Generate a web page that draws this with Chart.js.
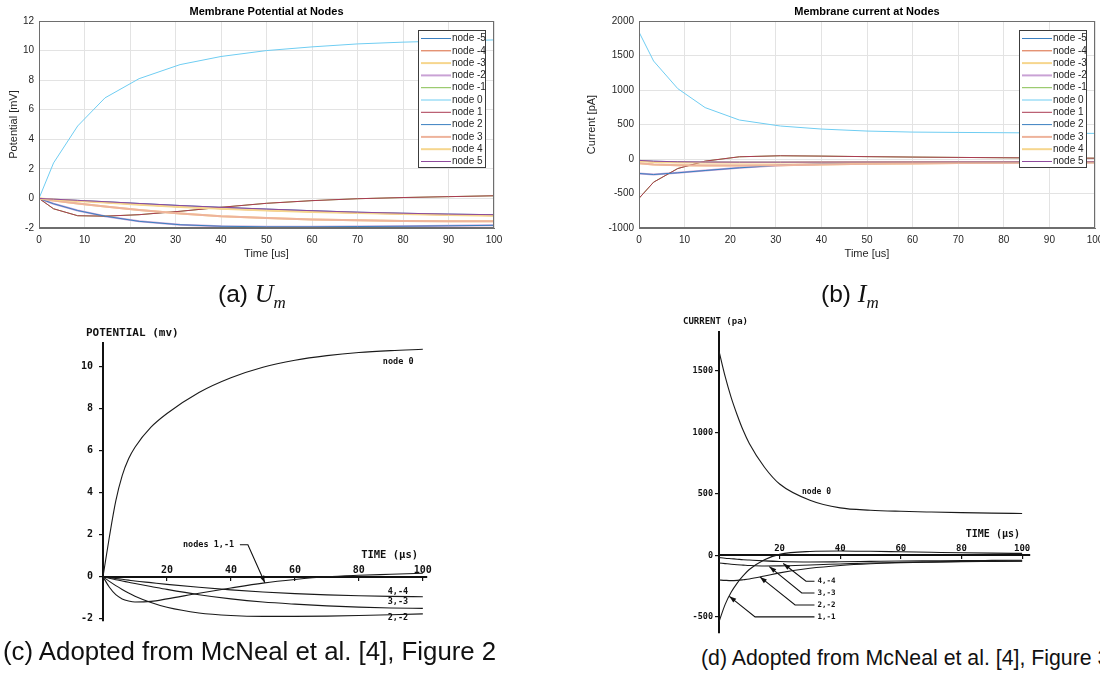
<!DOCTYPE html>
<html lang="en">
<head>
<meta charset="utf-8">
<title>Membrane potential and current at nodes</title>
<script src="https://cdn.jsdelivr.net/npm/chart.js@4.4.1/dist/chart.umd.min.js"></script>
<style>
  html, body { margin:0; padding:0; background:#fff; }
  body { position:relative; width:1100px; height:684px; overflow:hidden; font-family:'Liberation Sans', Arial, sans-serif; }
  canvas { position:absolute; }
  .cap { position:absolute; font-size:24.5px; line-height:26px; color:#111; white-space:nowrap; }
  .cap i { font-family:'Liberation Serif', 'DejaVu Serif', serif; font-size:26px; }
  .cap sub { font-size:17px; line-height:0; }
</style>
</head>
<body>
<canvas id="chart-um" width="550" height="270" style="left:0;top:0"></canvas>
<canvas id="chart-im" width="550" height="270" style="left:550px;top:0"></canvas>
<canvas id="chart-mc-um" width="450" height="330" style="left:0;top:310px"></canvas>
<canvas id="chart-mc-im" width="440" height="330" style="left:660px;top:310px"></canvas>
<div class="cap" style="left:218px;top:281px">(a) <i>U<sub>m</sub></i></div>
<div class="cap" style="left:821px;top:281px">(b) <i>I<sub>m</sub></i></div>
<div class="cap" style="left:3px;top:638px;font-size:25.8px">(c) Adopted from McNeal et al. [4], Figure 2</div>
<div class="cap" style="left:701px;top:645px;font-size:21.3px">(d) Adopted from McNeal et al. [4], Figure 3</div>

<script>
/* ── simulated data (top row), node -k mirrors node k ── */
var SIM_TIME = [0, 3.2, 8.5, 14.5, 22, 31, 40, 50, 60, 70, 80, 90, 100];
var NODE_NAMES = ['node -5','node -4','node -3','node -2','node -1','node 0','node 1','node 2','node 3','node 4','node 5'];

// membrane potential [mV]
var UM_N0 = [0, 2.4, 4.9, 6.8, 8.1, 9.05, 9.6, 10.0, 10.25, 10.45, 10.57, 10.65, 10.72];
var UM_N1 = [0, -0.7, -1.17, -1.2, -1.1, -0.87, -0.6, -0.33, -0.15, -0.02, 0.06, 0.12, 0.18];
var UM_N2 = [0, -0.36, -0.82, -1.2, -1.55, -1.78, -1.88, -1.92, -1.92, -1.9, -1.88, -1.85, -1.82];
var UM_N3 = [0, -0.14, -0.35, -0.55, -0.78, -1.02, -1.2, -1.33, -1.42, -1.48, -1.52, -1.54, -1.55];
var UM_N4 = [0, -0.07, -0.17, -0.28, -0.42, -0.58, -0.7, -0.82, -0.91, -0.99, -1.06, -1.12, -1.17];
var UM_N5 = [0, -0.05, -0.13, -0.22, -0.34, -0.48, -0.6, -0.72, -0.83, -0.93, -1.0, -1.06, -1.1];

// membrane current [pA]
var IM_N0 = [1840, 1420, 1020, 745, 565, 478, 434, 405, 390, 385, 381, 376, 371];
var IM_N1 = [-570, -336, -138, -31, 32, 47, 42, 34, 28, 23, 18, 14, 12];
var IM_N2 = [-210, -225, -200, -167, -128, -90, -72, -62, -56, -52, -50, -48, -47];
var IM_N3 = [-60, -78, -90, -95, -95, -90, -80, -70, -64, -59, -55, -52, -50];
var IM_N4 = [-30, -42, -50, -52, -52, -50, -48, -46, -45, -44, -43, -42, -42];
var IM_N5 = [-20, -32, -40, -44, -46, -46, -45, -44, -43, -42, -42, -41, -41];

var TIME_TICKS = [0, 10, 20, 30, 40, 50, 60, 70, 80, 90, 100];
var UM_TICKS = [-2, 0, 2, 4, 6, 8, 10, 12];
var IM_TICKS = [-1000, -500, 0, 500, 1000, 1500, 2000];

/* ── McNeal et al. curves (bottom row), nodes 0, (1,-1) ... (4,-4) ── */
var MC_TIME = [0, 2, 4, 6, 8, 10, 15, 20, 30, 40, 50, 60, 70, 80, 90, 100];
var MC_NAMES = ['node 0', '1,-1', '2,-2', '3,-3', '4,-4'];

var MC_UM_N0 = [0, 1.9, 3.6, 4.8, 5.6, 6.15, 7.1, 7.75, 8.75, 9.45, 9.95, 10.28, 10.5, 10.65, 10.74, 10.8];
var MC_UM_N1 = [0, -0.5, -0.85, -1.05, -1.15, -1.2, -1.17, -1.05, -0.78, -0.53, -0.3, -0.13, 0.0, 0.07, 0.12, 0.17];
var MC_UM_N2 = [0, -0.22, -0.42, -0.6, -0.77, -0.92, -1.22, -1.45, -1.72, -1.84, -1.88, -1.88, -1.87, -1.84, -1.8, -1.76];
var MC_UM_N3 = [0, -0.07, -0.14, -0.2, -0.26, -0.32, -0.46, -0.6, -0.85, -1.05, -1.2, -1.3, -1.38, -1.44, -1.48, -1.5];
var MC_UM_N4 = [0, -0.04, -0.08, -0.12, -0.16, -0.2, -0.28, -0.36, -0.5, -0.62, -0.72, -0.8, -0.86, -0.9, -0.93, -0.95];

var MC_IM_N0 = [1660, 1456, 1284, 1141, 1014, 909, 716, 580, 448, 386, 367, 358, 352, 347, 343, 340];
var MC_IM_N1 = [-540, -400, -300, -225, -165, -115, -35, 8, 32, 36, 33, 29, 25, 21, 18, 16];
var MC_IM_N2 = [-200, -203, -205, -203, -198, -192, -168, -142, -105, -82, -68, -60, -55, -51, -49, -47];
var MC_IM_N3 = [-62, -67, -72, -76, -79, -82, -86, -85, -78, -70, -62, -57, -53, -50, -48, -46];
var MC_IM_N4 = [-18, -23, -27, -31, -35, -38, -45, -50, -54, -52, -49, -46, -44, -42, -41, -40];

var MC_TIME_TICKS = [20, 40, 60, 80, 100];
var MC_UM_TICKS = [-2, 0, 2, 4, 6, 8, 10];
var MC_IM_TICKS = [-500, 0, 500, 1000, 1500];

/* ── styles ── */
var ML_FONT = "'Liberation Sans', Arial, sans-serif";
var MC_FONT = "'DejaVu Sans Mono', monospace";
var ML_TEXT = '#262626';
var ML_GRID = '#e3e3e3';
var ML_AXIS = '#6e6e6e';
var NODE_COLORS = ['#3a7fc1','#d9663a','#f6d68e','#c9a2d5','#86bf4f','#6fcdf2','#ab3a52','#3a7fc1','#eeb39b','#f6d68e','#8e4a9c'];
var NODE_WIDTHS = [1, 1, 2, 2, 1, 1, 1, 1, 2, 2, 1];

function fixedTicks(list) {
  return function(s) { s.ticks = list.map(function(v) { return { value: v }; }); };
}
function plainNumber(v) { return String(v); }
function points(xs, ys) {
  return xs.map(function(t, j) { return { x: t, y: ys[j] }; });
}

/* ── MATLAB style frame + legend inside the axes ── */
var matlabBox = {
  id: 'matlabBox',
  afterDraw: function(chart) {
    var ctx = chart.ctx, a = chart.chartArea;
    ctx.save();
    ctx.strokeStyle = ML_AXIS; ctx.lineWidth = 1;
    ctx.strokeRect(Math.round(a.left) + 0.5, Math.round(a.top) + 0.5, Math.round(a.right - a.left) - 1, Math.round(a.bottom - a.top) - 1);

    var w = 67, h = 137;
    var bx = Math.round(a.right) - 9 - w, by = Math.round(a.top) + 9;
    ctx.fillStyle = '#fff'; ctx.fillRect(bx, by, w, h);
    ctx.strokeStyle = '#3c3c3c'; ctx.strokeRect(bx + 0.5, by + 0.5, w, h);
    ctx.font = '10px ' + ML_FONT; ctx.textAlign = 'left'; ctx.textBaseline = 'middle';
    chart.data.datasets.forEach(function(ds, i) {
      var y = by + 8.5 + i * 12.3;
      ctx.strokeStyle = ds.borderColor; ctx.lineWidth = ds.borderWidth;
      ctx.beginPath(); ctx.moveTo(bx + 3, y); ctx.lineTo(bx + 33, y); ctx.stroke();
      ctx.fillStyle = ML_TEXT; ctx.fillText(ds.label, bx + 34, y);
    });
    ctx.restore();
  }
};

function matlabChart(id, title, yTitle, byNode, yMin, yMax, yTicks, yWidth, yTitlePad, padRight) {
  var datasets = NODE_NAMES.map(function(name, i) {
    return {
      label: name,
      data: points(SIM_TIME, byNode[Math.abs(i - 5)]),
      borderColor: NODE_COLORS[i], borderWidth: NODE_WIDTHS[i],
      pointRadius: 0, tension: 0, fill: false,
      order: NODE_NAMES.length - 1 - i
    };
  });
  return new Chart(document.getElementById(id), {
    type: 'line',
    data: { datasets: datasets },
    options: {
      responsive: false, animation: false, events: [],
      layout: { padding: { left: 0, right: padRight, top: 0, bottom: 0 } },
      plugins: {
        legend: { display: false }, tooltip: { enabled: false },
        title: { display: true, text: title, fullSize: false, color: '#000',
                 font: { family: ML_FONT, size: 11, weight: 'bold' }, padding: { top: 5.7, bottom: 2.1 } }
      },
      scales: {
        x: {
          type: 'linear', min: 0, max: 100,
          afterBuildTicks: fixedTicks(TIME_TICKS),
          afterFit: function(s) { s.height = 42; s.paddingLeft = 0; s.paddingRight = 0; },
          grid: { color: ML_GRID, drawTicks: false },
          border: { color: ML_AXIS },
          ticks: { color: ML_TEXT, font: { family: ML_FONT, size: 10 }, padding: 6.5, maxRotation: 0, autoSkip: false, callback: plainNumber },
          title: { display: true, text: 'Time [us]', color: ML_TEXT, font: { family: ML_FONT, size: 11 }, padding: { top: 0, bottom: 9 } }
        },
        y: {
          type: 'linear', min: yMin, max: yMax,
          afterBuildTicks: fixedTicks(yTicks),
          afterFit: function(s) { s.width = yWidth; },
          grid: { color: ML_GRID, drawTicks: false },
          border: { color: ML_AXIS },
          ticks: { color: ML_TEXT, font: { family: ML_FONT, size: 10 }, padding: 5, autoSkip: false, callback: plainNumber },
          title: { display: true, text: yTitle, color: ML_TEXT, font: { family: ML_FONT, size: 11 }, padding: { top: yTitlePad, bottom: 0 } }
        }
      }
    },
    plugins: [matlabBox]
  });
}

/* ── McNeal style labels, leader lines and arrows ── */
function mcnealNotes(notes) {
  return {
    id: 'mcnealNotes',
    afterDraw: function(chart) {
      var ctx = chart.ctx, xs = chart.scales.x, ys = chart.scales.y, a = chart.chartArea;
      function X(v) { return xs.getPixelForValue(v); }
      function Y(v) { return ys.getPixelForValue(v); }
      ctx.save();
      ctx.fillStyle = '#111'; ctx.strokeStyle = '#111'; ctx.lineWidth = 1.1;
      ctx.textBaseline = 'middle';

      ctx.font = 'bold ' + notes.header.size + 'px ' + MC_FONT; ctx.textAlign = 'left';
      ctx.fillText(notes.header.text, a.left + notes.header.dx, a.top + notes.header.dy);

      ctx.font = 'bold ' + notes.time.size + 'px ' + MC_FONT; ctx.textAlign = 'right';
      ctx.fillText(notes.time.text, X(notes.time.x), Y(notes.time.y));

      ctx.textAlign = 'left';
      notes.labels.forEach(function(l) {
        ctx.font = 'bold ' + l.size + 'px ' + MC_FONT;
        ctx.fillText(l.text, X(l.x), Y(l.y));
      });

      notes.leaders.forEach(function(p) {
        var tx = X(p.tip[0]), ty = Y(p.tip[1]);
        var ex = X(p.elbow[0]), ey = Y(p.elbow[1]);
        ctx.beginPath();
        ctx.moveTo(X(p.end[0]), Y(p.end[1]));
        ctx.lineTo(ex, ey);
        ctx.lineTo(tx, ty);
        ctx.stroke();
        var ang = Math.atan2(ty - ey, tx - ex), len = 7, half = 2.4;
        ctx.beginPath();
        ctx.moveTo(tx, ty);
        ctx.lineTo(tx - len * Math.cos(ang) + half * Math.sin(ang), ty - len * Math.sin(ang) - half * Math.cos(ang));
        ctx.lineTo(tx - len * Math.cos(ang) - half * Math.sin(ang), ty - len * Math.sin(ang) + half * Math.cos(ang));
        ctx.closePath(); ctx.fill();
      });
      ctx.restore();
    }
  };
}

var MC_UM_NOTES = {
  header: { text: 'POTENTIAL (mv)', dx: -17, dy: -10, size: 11 },
  time: { text: 'TIME (µs)', x: 98.5, y: 1.04, size: 10.5 },
  labels: [
    { text: 'node 0', x: 87.5, y: 10.2, size: 8.5 },
    { text: 'nodes 1,-1', x: 25, y: 1.52, size: 8.5 },
    { text: '4,-4', x: 89, y: -0.71, size: 8.5 },
    { text: '3,-3', x: 89, y: -1.18, size: 8.5 },
    { text: '2,-2', x: 89, y: -1.96, size: 8.5 }
  ],
  leaders: [
    { end: [42.8, 1.52], elbow: [45.3, 1.52], tip: [50.6, -0.28] }
  ]
};

var MC_IM_NOTES = {
  header: { text: 'CURRENT (pa)', dx: -36, dy: -10, size: 9 },
  time: { text: 'TIME (µs)', x: 99.3, y: 169, size: 10 },
  labels: [
    { text: 'node 0', x: 27.4, y: 516, size: 8 },
    { text: '4,-4', x: 32.5, y: -210, size: 7.5 },
    { text: '3,-3', x: 32.5, y: -306, size: 7.5 },
    { text: '2,-2', x: 32.5, y: -403, size: 7.5 },
    { text: '1,-1', x: 32.5, y: -500, size: 7.5 }
  ],
  leaders: [
    { end: [31.5, -210], elbow: [28.7, -210], tip: [21.2, -66] },
    { end: [31.5, -306], elbow: [27.3, -306], tip: [16.6, -91] },
    { end: [31.5, -403], elbow: [25.1, -403], tip: [13.5, -175] },
    { end: [31.5, -500], elbow: [11.9, -500], tip: [3.4, -333] }
  ]
};

function mcnealChart(id, curves, xMax, yMin, yMax, yTicks, cfg, notes) {
  var datasets = curves.map(function(vals, k) {
    return {
      label: MC_NAMES[k], data: points(MC_TIME, vals),
      borderColor: '#1a1a1a', borderWidth: 1.1, pointRadius: 0,
      cubicInterpolationMode: 'monotone', fill: false
    };
  });
  var tickFont = function(size) { return { family: MC_FONT, size: size, weight: 'bold' }; };
  return new Chart(document.getElementById(id), {
    type: 'line',
    data: { datasets: datasets },
    options: {
      responsive: false, animation: false, events: [],
      layout: { padding: cfg.pad },
      plugins: { legend: { display: false }, tooltip: { enabled: false } },
      scales: {
        x: {
          type: 'linear', min: 0, max: xMax, position: { y: 0 },
          afterBuildTicks: fixedTicks(MC_TIME_TICKS),
          afterFit: function(s) { s.paddingLeft = 0; s.paddingRight = 0; },
          grid: { drawOnChartArea: false, color: '#111', tickLength: 3, lineWidth: 1.2 },
          border: { color: '#111', width: 2 },
          ticks: { color: '#111', font: tickFont(cfg.xTickSize), padding: cfg.xTickPad, maxRotation: 0, autoSkip: false, callback: plainNumber }
        },
        y: {
          type: 'linear', min: yMin, max: yMax, position: 'left',
          afterBuildTicks: fixedTicks(yTicks),
          afterFit: function(s) { s.width = cfg.left; },
          grid: { drawOnChartArea: false, color: '#111', tickLength: 4, lineWidth: 1.2 },
          border: { color: '#111', width: 2 },
          ticks: { color: '#111', font: tickFont(cfg.yTickSize), padding: cfg.yTickPad, autoSkip: false, callback: plainNumber }
        }
      }
    },
    plugins: [mcnealNotes(notes)]
  });
}

document.addEventListener('DOMContentLoaded', function() {
  matlabChart('chart-um', 'Membrane Potential at Nodes', 'Potential [mV]',
    [UM_N0, UM_N1, UM_N2, UM_N3, UM_N4, UM_N5], -2, 12, UM_TICKS, 39, 7.4, 56);
  matlabChart('chart-im', 'Membrane current at Nodes', 'Current [pA]',
    [IM_N0, IM_N1, IM_N2, IM_N3, IM_N4, IM_N5], -1000, 2000, IM_TICKS, 89, 35.4, 5);

  mcnealChart('chart-mc-um', [MC_UM_N0, MC_UM_N1, MC_UM_N2, MC_UM_N3, MC_UM_N4], 101.3, -2.1, 11.1, MC_UM_TICKS,
    { pad: { left: 0, right: 23, top: 33, bottom: 19 }, left: 103, xTickSize: 10, xTickPad: -15, yTickSize: 10, yTickPad: 6 },
    MC_UM_NOTES);
  mcnealChart('chart-mc-im', [MC_IM_N0, MC_IM_N1, MC_IM_N2, MC_IM_N3, MC_IM_N4], 102.6, -630, 1815, MC_IM_TICKS,
    { pad: { left: 0, right: 70, top: 22, bottom: 5 }, left: 59, xTickSize: 9, xTickPad: -15, yTickSize: 8.5, yTickPad: 2 },
    MC_IM_NOTES);
});
</script>
</body>
</html>
